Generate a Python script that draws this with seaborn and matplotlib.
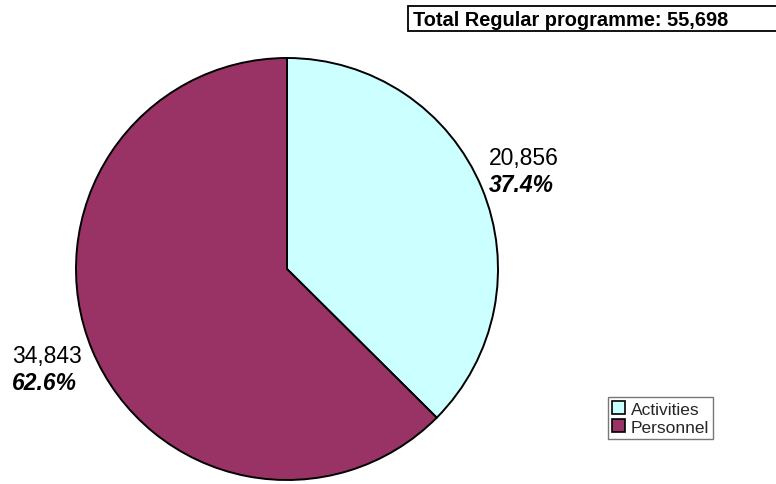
import matplotlib
matplotlib.use("Agg")
import matplotlib.pyplot as plt
from matplotlib.patches import Rectangle, Patch
import seaborn as sns

categories = ["Activities", "Personnel"]
values = [20856, 34843]
total_label = "Total Regular programme: 55,698"
colors = ["#CCFFFF", "#993366"]

sns.set_theme(style="white")
plt.rcParams['font.family'] = ['Liberation Sans', 'DejaVu Sans']

W, H = 776, 485
fig = plt.figure(figsize=(W / 100, H / 100), dpi=100)
ax = fig.add_axes([0, 0, 1, 1])

pal = sns.color_palette(colors)
ax.pie(values, colors=pal, startangle=90, counterclock=False,
       center=(287, H - 270), radius=211,
       wedgeprops=dict(edgecolor="black", linewidth=1.4))

ax.set_xlim(0, W)
ax.set_ylim(0, H)
ax.set_aspect("equal")
ax.axis("off")

total = sum(values)
pcts = [v / total * 100 for v in values]
label_pos = [(489, H - 158), (12, H - 356)]
for (x, y), v, p in zip(label_pos, values, pcts):
    ax.text(x, y, f"{v:,}", fontsize=16.5, ha="left", va="center", color="black")
    ax.text(x, y - 28, f"{p:.1f}%", fontsize=16.5, ha="left", va="center",
            fontweight="bold", fontstyle="italic", color="black")

# Title box
ax.add_patch(Rectangle((408, H - 32), 380, 25, facecolor="white",
                       edgecolor="black", linewidth=1.3, clip_on=False))
ax.text(413, H - 20, total_label, fontsize=14.4, fontweight="bold",
        ha="left", va="center", color="black")

handles = [Patch(facecolor=c, edgecolor="black", linewidth=1.2) for c in colors]
leg = ax.legend(handles, categories, loc="lower left",
                bbox_to_anchor=(608 / W, 45 / H), bbox_transform=fig.transFigure,
                borderaxespad=0, fontsize=12.5, frameon=True, fancybox=False,
                handlelength=0.75, handleheight=0.75, handletextpad=0.3,
                labelspacing=0.15, borderpad=0.25)
leg.get_frame().set_edgecolor("#555555")
leg.get_frame().set_linewidth(1.0)

fig.savefig("out.png", dpi=100)
